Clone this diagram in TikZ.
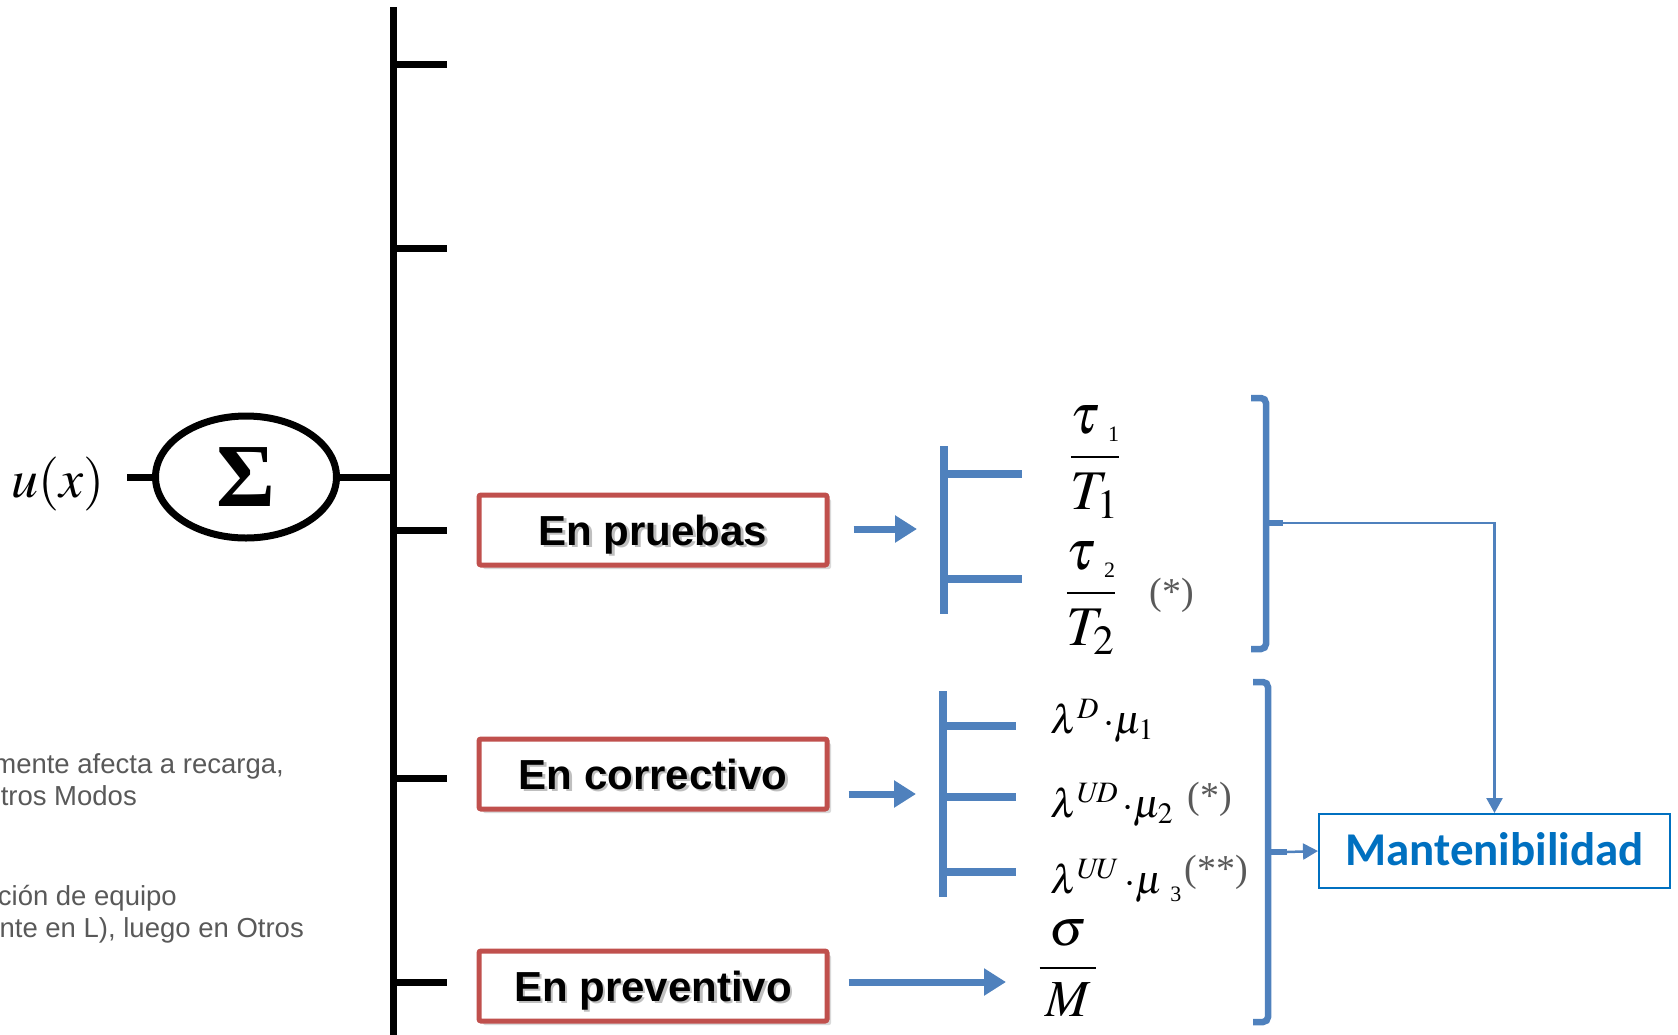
\documentclass[tikz,border=0pt]{standalone}
\usepackage{mathptmx}
\usepackage[no-math]{fontspec}
\usetikzlibrary{arrows.meta,shadows,shapes.geometric}
\newfontfamily\arialf{Liberation Sans}
\newfontfamily\timesf{Liberation Serif}
\newfontfamily\calibrif{Carlito}
\definecolor{bluA}{RGB}{79,129,189}
\definecolor{bluB}{RGB}{0,112,192}
\definecolor{redA}{RGB}{192,80,77}
\definecolor{grayT}{RGB}{89,89,89}
\newcommand{\shd}[1]{\rlap{\hspace{2.5pt}\raisebox{-2.5pt}{\textcolor{black!25}{#1}}}#1}
\newcommand{\lowsub}[1]{\mbox{\hspace{8pt}\raisebox{-8pt}{\timesf\fontsize{22}{22}\selectfont #1}}}
\begin{document}
\begin{tikzpicture}[x=1pt,y=-1pt,
  blk/.style={line width=7pt},
  blu/.style={bluA,line width=8pt},
  bigarrow/.style={bluA,line width=7pt,-{Triangle[length=22pt,width=26pt]}},
  thinarrow/.style={bluA,line width=2.5pt,-{Triangle[length=15pt,width=16pt]}},
  brk/.style={bluA,line width=6.5pt,rounded corners=5pt},
  redbox/.style={draw=redA,line width=5pt,fill=white,rounded corners=2pt,minimum width=348pt,minimum height=70pt,
    text height=30pt,text depth=0pt,font=\arialf\bfseries\fontsize{42}{42}\selectfont,
    drop shadow={shadow xshift=4pt,shadow yshift=-4pt,opacity=.3}},
  frm/.style={font=\fontsize{56}{60}\selectfont},
  lam/.style={font=\fontsize{40}{44}\selectfont,anchor=base west,inner sep=0pt},
  gstar/.style={grayT,font=\timesf\fontsize{38}{40}\selectfont},
  sidenote/.style={grayT,font=\arialf\fontsize{27.5}{30}\selectfont,anchor=base east,inner sep=0pt}]
\useasboundingbox (0,0) rectangle (1678,1034);
\clip (0,0) rectangle (1678,1034);
% bus
\draw[blk] (393,7) -- (393,1040);
\foreach \y in {64,248,530,778,982} \draw[blk] (393,\y) -- (447,\y);
\node[draw,ellipse,line width=7pt,minimum width=181pt,minimum height=122pt,inner sep=0pt] (sum) at (246,477)
  {\timesf\bfseries\fontsize{90}{90}\selectfont Σ};
\node[font=\fontsize{54}{54}\selectfont] (ux) at (58,484) {$u(x)$};
\coordinate (uxend) at (127,477);
\coordinate (busS) at (393,477);
\draw[blk] (uxend) -- (sum.west);
\draw[blk] (sum.east) -- (busS);
% left notes
\node[sidenote] (noteA) at (284,773) {mente afecta a recarga,};
\node[sidenote] (noteB) at (137,805) {tros Modos};
\node[sidenote] (noteC) at (177,905) {ción de equipo};
\node[sidenote] (noteD) at (304,937) {nte en L), luego en Otros};
% boxes
\node[redbox] (boxP) at (653,530) {\shd{En pruebas}};
\node[redbox] (boxC) at (653,774) {\shd{En correctivo}};
\node[redbox] (boxV) at (653,986) {\shd{En preventivo}};
\coordinate (tipP) at (917,529);
\coordinate (tipC) at (916,794);
\coordinate (tipV) at (1006,982);
\draw[bigarrow,shorten <=24pt] (boxP.east |- tipP) -- (tipP);
\draw[bigarrow,shorten <=19pt] (boxC.east |- tipC) -- (tipC);
\draw[bigarrow,shorten <=19pt] (boxV.east |- tipV) -- (tipV);
% combs
\draw[blu] (944,446) -- (944,614);
\foreach \y in {474,579} \draw[blu] (944,\y) -- (1022,\y);
\draw[blu] (943,691) -- (943,897);
\foreach \y in {726,797,872} \draw[blu] (943,\y) -- (1016,\y);
% terms
\node[frm] (fracA) at (1095,462) {$\displaystyle\frac{\tau\lowsub{1}}{T_1}$};
\node[frm] (fracB) at (1091,598) {$\displaystyle\frac{\tau\lowsub{2}}{T_2}$};
\node[gstar] (starA) at (1172,595) {(*)};
\node[lam] (rowD) at (1050,733) {$\lambda^{D}\,{\cdot}\mu_1$};
\node[lam] (rowUD) at (1050,817) {$\lambda^{U\!D}\,{\cdot}\mu_2$};
\node[lam] (rowUU) at (1050,893) {$\lambda^{U\!U}\,{\cdot}\mu\lowsub{3}$};
\node[gstar] (starB) at (1210,799) {(*)};
\node[gstar] (starC) at (1216,872) {(**)};
\node[frm,font=\fontsize{52}{56}\selectfont] (fracS) at (1068,968) {$\displaystyle\frac{\sigma}{\,M\,}$};
% brackets
\coordinate (brA) at (1283,523);
\coordinate (brB) at (1287,852);
\draw[brk] (1251,398) -| (1266,649) -- (1251,649);
\draw[bluA,line width=6.5pt] (1266,523) -- (brA);
\draw[brk] (1253,682) -| (1268,1022) -- (1253,1022);
\draw[bluA,line width=6.5pt] (1268,852) -- (brB);
\node[draw=bluB,line width=2pt,minimum width=351pt,minimum height=74pt,text height=28pt,text depth=0pt,
  text=bluB,font=\calibrif\bfseries\fontsize{47}{47}\selectfont] (mant) at (1494.5,851) {Mantenibilidad};
\draw[thinarrow] (brA) -| (mant.north);
\draw[thinarrow] (brB) -- (mant.west);
\end{tikzpicture}
\end{document}
